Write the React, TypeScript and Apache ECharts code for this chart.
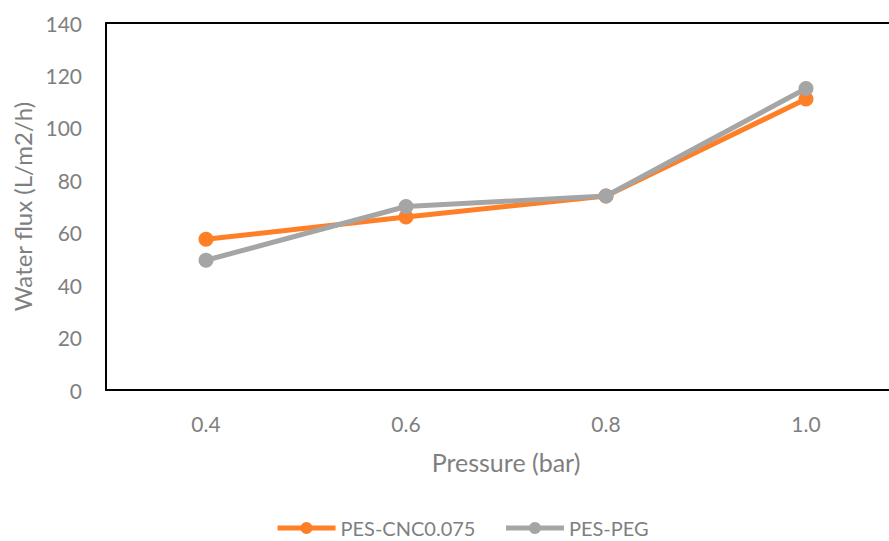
import React, { useEffect, useRef } from "react";
import * as echarts from "echarts";

const categories = ["0.4", "0.6", "0.8", "1.0"];
const cncValues = [57.5, 66, 74, 111];
const pegValues = [49.5, 70, 74, 115];
const seriesNames = ["PES-CNC0.075", "PES-PEG"];

export default function App() {
  const ref = useRef<HTMLDivElement>(null);
  useEffect(() => {
    if (!ref.current) return;
    const chart = echarts.init(ref.current, undefined, { renderer: "svg" });
    const font = "Lato, 'Open Sans', sans-serif";
    chart.setOption({
      animation: false,
      backgroundColor: "#ffffff",
      textStyle: { fontFamily: font },
      grid: {
        left: 106,
        top: 23,
        width: 800,
        height: 367,
        show: false,
        containLabel: false,
      },
      legend: {
        top: 513,
        left: 270,
        itemWidth: 58,
        itemHeight: 15,
        itemGap: 28,
        lineStyle: { width: 5 },
        textStyle: { color: "#7f7f7f", fontSize: 20, fontFamily: font },
        data: seriesNames,
      },
      xAxis: [
        {
          type: "category",
          data: categories,
          position: "bottom",
          name: "Pressure (bar)",
          nameLocation: "middle",
          nameGap: 59,
          nameTextStyle: { color: "#7f7f7f", fontSize: 25, fontFamily: font },
          axisLine: { show: true, lineStyle: { color: "#000000", width: 2 } },
          axisTick: { show: false },
          axisLabel: { color: "#7f7f7f", fontSize: 21, margin: 23, fontFamily: font },
        },
        {
          type: "category",
          data: categories,
          position: "top",
          axisLine: { show: true, onZero: false, lineStyle: { color: "#000000", width: 2 } },
          axisTick: { show: false },
          axisLabel: { show: false },
          splitLine: { show: false },
        },
      ],
      yAxis: {
        type: "value",
        min: 0,
        max: 140,
        interval: 20,
        name: "Water flux (L/m2/h)",
        nameLocation: "middle",
        nameGap: 72,
        nameTextStyle: { color: "#7f7f7f", fontSize: 24, fontFamily: font },
        axisLine: { show: true, lineStyle: { color: "#000000", width: 2 } },
        axisTick: { show: false },
        splitLine: { show: false },
        axisLabel: { color: "#7f7f7f", fontSize: 21, margin: 24, fontFamily: font },
      },
      series: [
        {
          name: seriesNames[0],
          type: "line",
          data: cncValues,
          symbol: "circle",
          symbolSize: 15,
          color: "#FF7F27",
          lineStyle: { width: 5, color: "#FF7F27" },
          itemStyle: { color: "#FF7F27" },
        },
        {
          name: seriesNames[1],
          type: "line",
          data: pegValues,
          symbol: "circle",
          symbolSize: 15,
          color: "#A5A5A5",
          lineStyle: { width: 5, color: "#A5A5A5" },
          itemStyle: { color: "#A5A5A5" },
        },
      ],
    });
    return () => chart.dispose();
  }, []);
  return (
    <div
      style={{
        position: "fixed",
        left: 0,
        top: 0,
        width: 889,
        height: 541,
        overflow: "hidden",
      }}
    >
      <div ref={ref} style={{ width: 930, height: 541 }} />
    </div>
  );
}
